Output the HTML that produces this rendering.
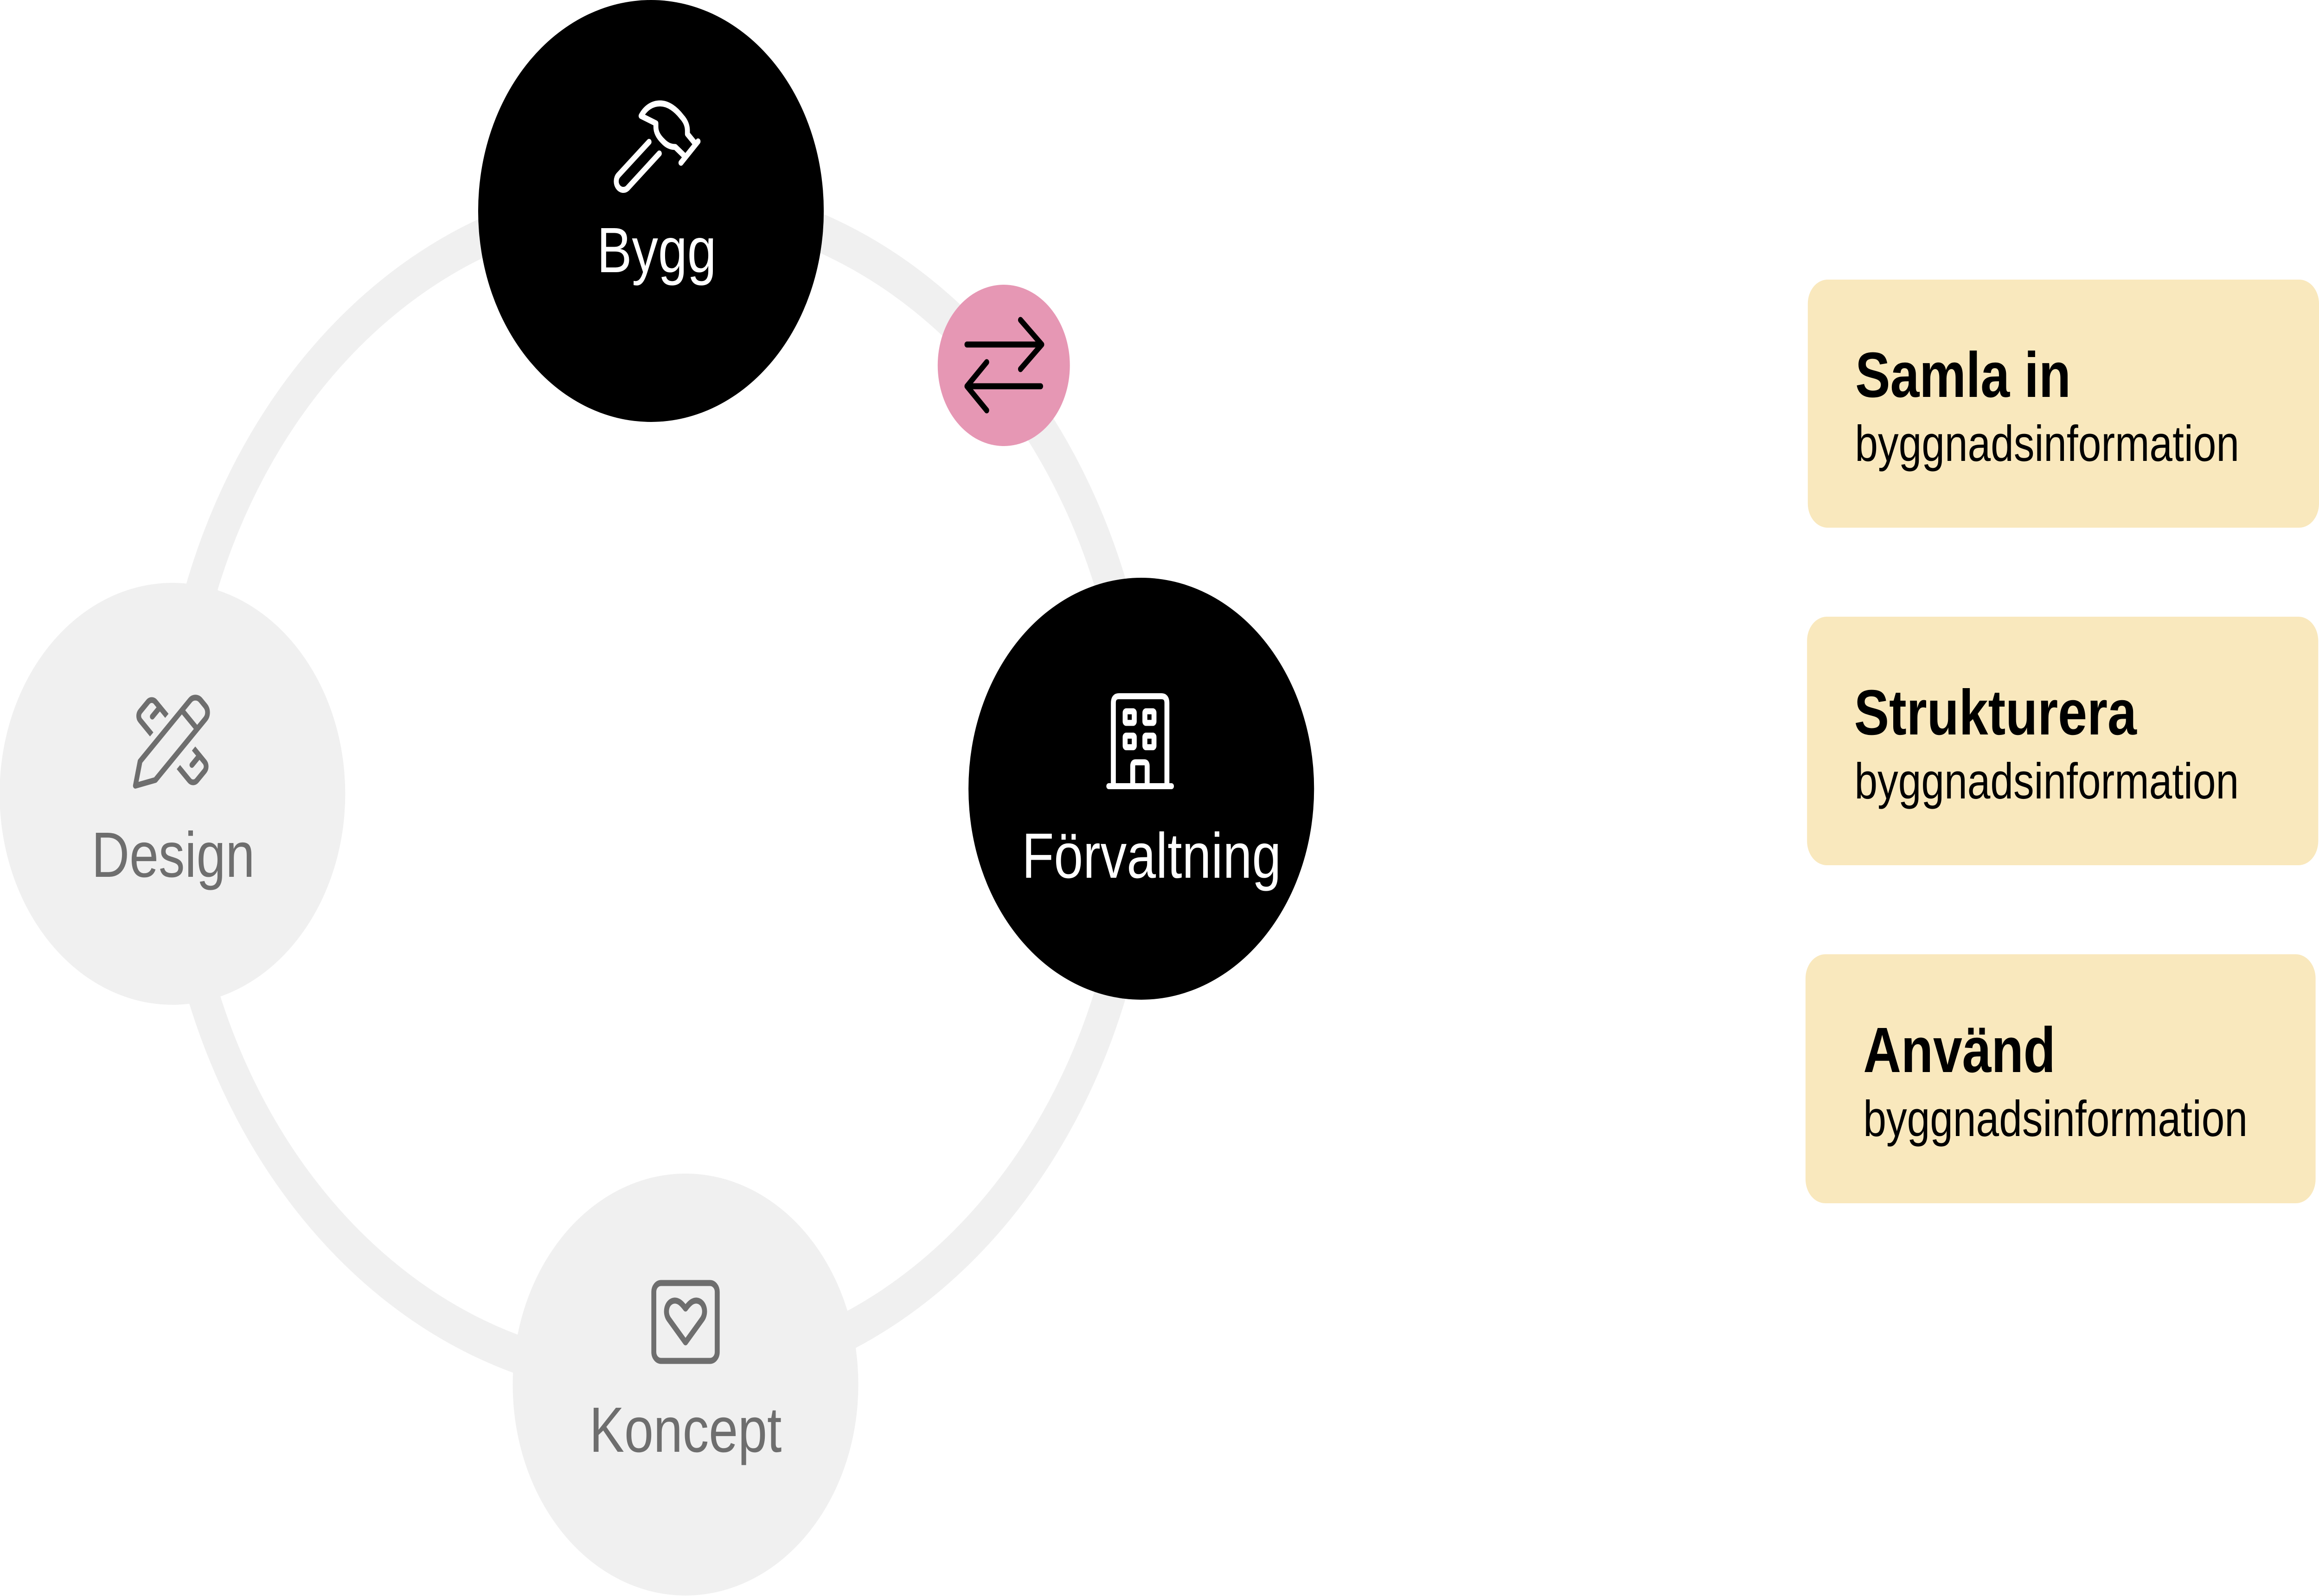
<!DOCTYPE html>
<html>
<head>
<meta charset="utf-8">
<style>
  html, body { margin: 0; padding: 0; background: #ffffff; width: 100%; height: 100%; overflow: hidden; }
  svg { display: block; width: 100vw; height: 100vh; }
  text { font-family: "Liberation Sans", Arial, sans-serif; }
</style>
</head>
<body>
<svg viewBox="0 0 6106 3442" preserveAspectRatio="none" text-rendering="geometricPrecision" xmlns="http://www.w3.org/2000/svg">
  <rect x="0" y="0" width="6106" height="3442" fill="#ffffff"/>

  <!-- ring -->
  <circle cx="1729" cy="1701" r="1274" fill="none" stroke="#f0f0f0" stroke-width="82"/>

  <!-- nodes -->
  <circle cx="1714" cy="455" r="455" fill="#000000"/>
  <circle cx="3005" cy="1701" r="455" fill="#000000"/>
  <circle cx="454" cy="1712" r="455" fill="#f0f0f0"/>
  <circle cx="1805" cy="2986" r="455" fill="#f0f0f0"/>
  <circle cx="2643" cy="788" r="174" fill="#e697b4"/>

  <!-- pink arrows -->
  <g transform="translate(2460,610)" fill="none" stroke="#000000" stroke-width="13" stroke-linecap="round" stroke-linejoin="round">
    <path d="M86,133 H283 M227,80 L283,133 L227,186"/>
    <path d="M280,223 H86 M138,171 L86,223 L138,275"/>
  </g>

  <!-- hammer icon -->
  <g transform="translate(1590,190)" fill="none" stroke="#ffffff" stroke-width="13" stroke-linecap="round" stroke-linejoin="round">
    <path d="M119,116 L38,188 A18.5 18.5 0 0 0 62,216 L146,141"/>
    <path d="M240,119 L220,99 L220,92 C220,80 214,70 205,62 C190,46 170,33 148,33 C128,33 110,42 98,60 L137,76 L137,84 C137,96 145,106 155,114 C165,123 175,127 188,127 L213,147"/>
    <path d="M248,115 L203,161"/>
  </g>
  <text x="1729" y="587" font-size="138" fill="#ffffff" text-anchor="middle">Bygg</text>

  <!-- building icon -->
  <g fill="none" stroke="#ffffff" stroke-width="13" stroke-linecap="round" stroke-linejoin="round">
    <path d="M2931.5,1695.5 V1516 Q2931.5,1501.5 2946,1501.5 H3058 Q3072.5,1501.5 3072.5,1516 V1695.5"/>
    <path d="M2919.5,1695.5 H3084.5"/>
    <path d="M2982.5,1695.5 V1652 Q2982.5,1644 2990,1644 H3013 Q3020.5,1644 3020.5,1652 V1695.5"/>
    <rect x="2962.5" y="1534" width="24" height="25" rx="3"/>
    <rect x="3014.5" y="1534" width="24" height="25" rx="3"/>
    <rect x="2962.5" y="1586.5" width="24" height="25" rx="3"/>
    <rect x="3014.5" y="1586.5" width="24" height="25" rx="3"/>
  </g>
  <text x="3032" y="1893" font-size="138" fill="#ffffff" text-anchor="middle">Förvaltning</text>

  <!-- design icon -->
  <g transform="translate(330,1480)" fill="none" stroke="#6e6e6e" stroke-width="12.5" stroke-linejoin="round">
    <g transform="translate(124,118.5) rotate(45)">
      <path stroke-linecap="butt" d="M-49,-28.3 H-91.4 A14 14 0 0 0 -105.4,-14.3 V14.3 A14 14 0 0 0 -91.4,28.3 H-49"/>
      <path stroke-linecap="butt" d="M50.6,-28.3 H91.4 A14 14 0 0 1 105.4,-14.3 V14.3 A14 14 0 0 1 91.4,28.3 H50.6"/>
      <path stroke-linecap="round" d="M-75,-28.3 V0 M72.5,-28.3 V0"/>
    </g>
    <g transform="translate(115.5,125.5) rotate(-45)">
      <path stroke-linecap="round" d="M-126,0 L-80,-28.5 L106,-28.5 A20 20 0 0 1 126,-8.5 L126,8.5 A20 20 0 0 1 106,28.5 L-80,28.5 Z"/>
      <path d="M75.7,-28.5 V28.5"/>
    </g>
  </g>
  <text x="456" y="1891" font-size="138" fill="#6e6e6e" text-anchor="middle">Design</text>

  <!-- koncept icon -->
  <g transform="translate(1805,2851)" fill="none" stroke="#6e6e6e" stroke-width="13" stroke-linejoin="round" stroke-linecap="round">
    <rect x="-83.5" y="-84" width="167" height="168" rx="19"/>
    <path d="M0,44 L-44,-6 C-56,-20 -50,-44 -30,-46 C-18,-47 -9,-39 0,-29 C9,-39 18,-47 30,-46 C50,-44 56,-20 44,-6 Z"/>
  </g>
  <text x="1805" y="3131" font-size="138" fill="#6e6e6e" text-anchor="middle">Koncept</text>

  <!-- right boxes -->
  <rect x="4760" y="603" width="1346" height="535" rx="52" fill="#f9e8bd"/>
  <rect x="4758" y="1330" width="1346" height="536" rx="52" fill="#f9e8bd"/>
  <rect x="4754" y="2058" width="1343" height="537" rx="52" fill="#f9e8bd"/>

  <text x="4885" y="856" font-size="138" font-weight="700" fill="#000000">Samla in</text>
  <text x="4884" y="994" font-size="109" fill="#000000">byggnadsinformation</text>

  <text x="4882" y="1584" font-size="138" font-weight="700" fill="#000000">Strukturera</text>
  <text x="4883" y="1722" font-size="109" fill="#000000">byggnadsinformation</text>

  <text x="4906" y="2312" font-size="138" font-weight="700" fill="#000000">Använd</text>
  <text x="4906" y="2450" font-size="109" fill="#000000">byggnadsinformation</text>
</svg>
</body>
</html>
